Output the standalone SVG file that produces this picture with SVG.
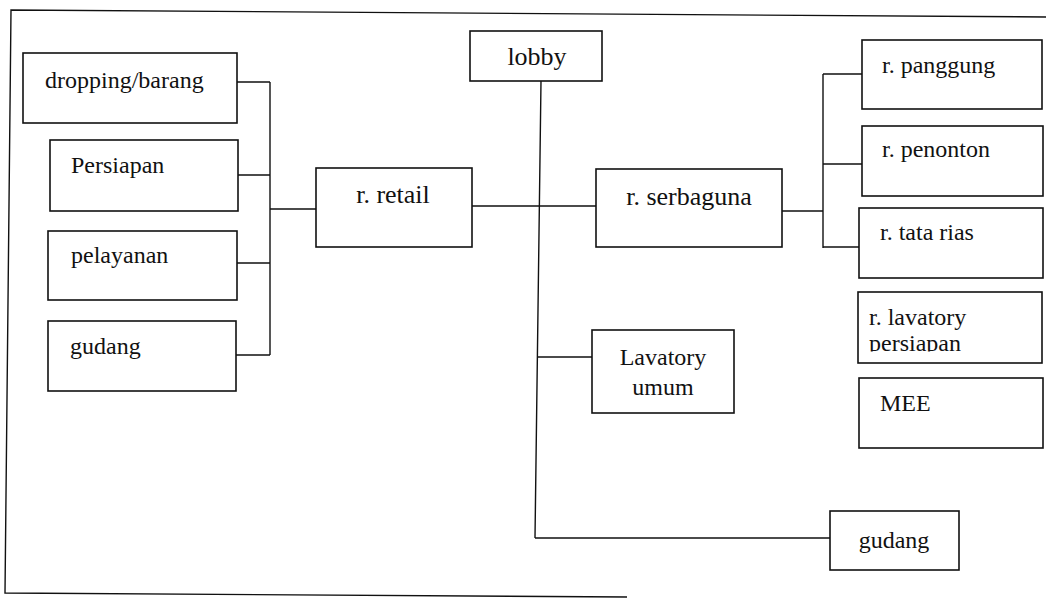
<svg xmlns="http://www.w3.org/2000/svg" width="1046" height="599" viewBox="0 0 1046 599">
<style>
.box{fill:#fff;stroke:#111;stroke-width:1.6}
.ln{fill:none;stroke:#111;stroke-width:1.4}
.t{font-family:"Liberation Serif","Times New Roman",serif;font-size:24px;fill:#111}
.tb{font-family:"Liberation Serif","Times New Roman",serif;font-size:26px;fill:#111}
.c{text-anchor:middle}
</style>
<defs>
<clipPath id="clipPers"><rect x="860" y="300" width="180" height="51.5"/></clipPath>
</defs>
<rect width="1046" height="599" fill="#fff"/>
<path id="frame" class="ln" d="M1046,17 L11,10 L5,593 L627,597"/>
<g id="connectors">
<path class="ln" d="M237,82 H270 M238,175 H270 M237,263 H270 M236,355 H270 M270,82 V355 M270,209 H316"/>
<path class="ln" d="M472,206 H596 M541,81 L535,538 M538,357 H592 M535,538 H830"/>
<path class="ln" d="M782,211 H823 M823,74 V248 M823,74 H862 M823,164 H862 M823,247 H859"/>
</g>
<g id="dropping"><rect class="box" x="23" y="53" width="214" height="70"/><text class="t" x="45" y="88">dropping/barang</text></g>
<g id="persiapan"><rect class="box" x="50" y="140" width="188" height="71"/><text class="t" x="71" y="173">Persiapan</text></g>
<g id="pelayanan"><rect class="box" x="48" y="231" width="189" height="69"/><text class="t" x="71" y="263">pelayanan</text></g>
<g id="gudang-left"><rect class="box" x="48" y="321" width="188" height="70"/><text class="t" x="70" y="354">gudang</text></g>
<g id="lobby"><rect class="box" x="470" y="31" width="132" height="50"/><text class="tb c" x="537" y="65">lobby</text></g>
<g id="retail"><rect class="box" x="316" y="168" width="156" height="79"/><text class="tb c" x="393" y="203">r. retail</text></g>
<g id="serbaguna"><rect class="box" x="596" y="169" width="186" height="78"/><text class="tb c" x="689" y="205">r. serbaguna</text></g>
<g id="panggung"><rect class="box" x="862" y="40" width="180" height="69"/><text class="t" x="882" y="73">r. panggung</text></g>
<g id="penonton"><rect class="box" x="862" y="126" width="181" height="70"/><text class="t" x="882" y="157">r. penonton</text></g>
<g id="tatarias"><rect class="box" x="859" y="208" width="184" height="70"/><text class="t" x="880" y="240">r. tata rias</text></g>
<g id="lavatory-persiapan"><rect class="box" x="858" y="292" width="184" height="71"/><text class="t" x="869" y="325">r. lavatory</text><text class="t" x="869" y="351" clip-path="url(#clipPers)">persiapan</text></g>
<g id="mee"><rect class="box" x="859" y="378" width="184" height="70"/><text class="t" x="880" y="411">MEE</text></g>
<g id="lavatory-umum"><rect class="box" x="592" y="330" width="142" height="83"/><text class="t c" x="663" y="365">Lavatory</text><text class="t c" x="663" y="395">umum</text></g>
<g id="gudang-right"><rect class="box" x="830" y="511" width="129" height="59"/><text class="t c" x="894" y="548">gudang</text></g>
</svg>
